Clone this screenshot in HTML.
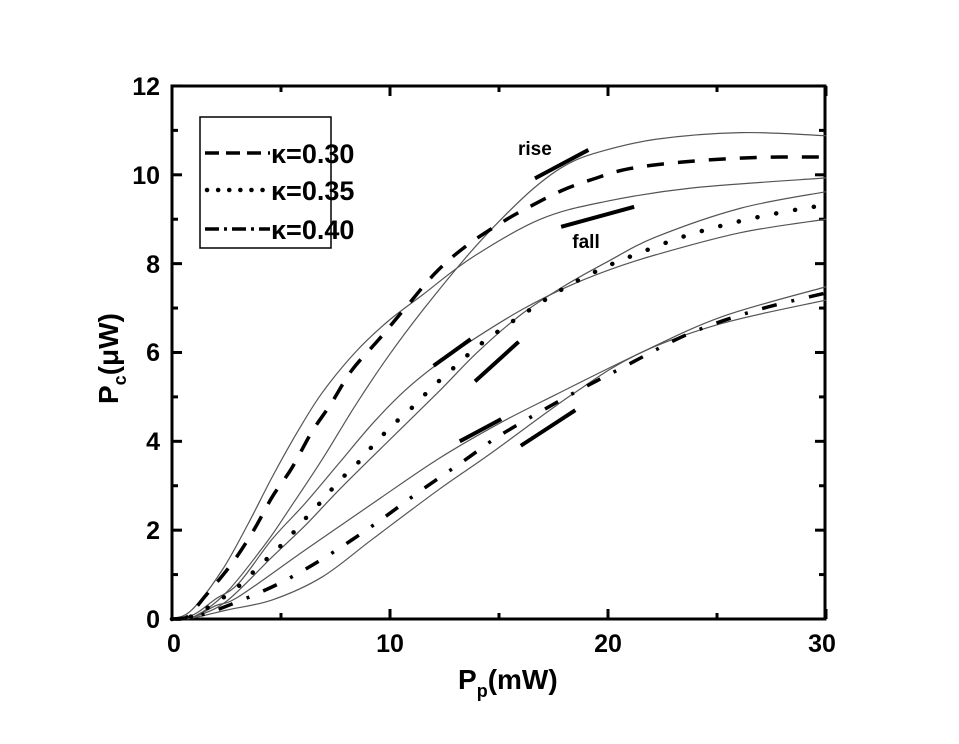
<!DOCTYPE html>
<html><head><meta charset="utf-8"><style>
html,body{margin:0;padding:0;background:#fff;}
svg{display:block;font-family:"Liberation Sans",Arial,sans-serif;font-weight:bold;}
</style></head><body>
<svg id="s" width="959" height="744" viewBox="0 0 959 744" xmlns="http://www.w3.org/2000/svg">
<rect x="172" y="86" width="653" height="533" fill="none" stroke="#000" stroke-width="3"/>
<g id="ticks" stroke="#000" stroke-width="3"></g>
<g font-size="25" text-anchor="middle" fill="#000">
<text x="174" y="652">0</text><text x="390" y="652">10</text><text x="608" y="652">20</text><text x="822" y="652">30</text>
</g>
<g font-size="25" text-anchor="end" fill="#000">
<text x="160" y="628">0</text><text x="160" y="539">2</text><text x="160" y="450">4</text><text x="160" y="361">6</text><text x="160" y="273">8</text><text x="160" y="184">10</text><text x="160" y="95">12</text>
</g>
<text x="458" y="689" font-size="28" fill="#000">P<tspan font-size="18" dy="8">p</tspan><tspan dy="-8">(mW)</tspan></text>
<text transform="translate(118,404) rotate(-90)" font-size="28" fill="#000">P<tspan font-size="18" dy="8">c</tspan><tspan dy="-8">(μW)</tspan></text>
<g id="curves" fill="none"></g>
<rect x="200" y="117" width="131" height="131" fill="#fff" stroke="#000" stroke-width="1.5"/>
<line x1="205" y1="153" x2="270" y2="153" stroke="#000" stroke-width="3.5" stroke-dasharray="14,7"/>
<line x1="207" y1="190" x2="270" y2="190" stroke="#000" stroke-width="4.5" stroke-linecap="round" stroke-dasharray="0.1,11"/>
<line x1="205" y1="229" x2="270" y2="229" stroke="#000" stroke-width="3.5" stroke-dasharray="14,5,3,5"/>
<g font-size="27" fill="#000"><text x="271" y="163">κ=0.30</text><text x="271" y="200">κ=0.35</text><text x="271" y="239">κ=0.40</text></g>
<g font-size="19" fill="#000"><text x="518" y="155">rise</text><text x="586" y="248" text-anchor="middle">fall</text></g>
</svg>
<script>
var X=x=>172+21.8*x, Y=y=>619-44.42*y, NS="http://www.w3.org/2000/svg";
function path(pts){var p=pts.map(a=>[X(a[0]),Y(a[1])]);var d="M"+p[0][0]+","+p[0][1];
for(var i=0;i<p.length-1;i++){var p0=p[i-1]||p[i],p1=p[i],p2=p[i+1],p3=p[i+2]||p2;
d+=" C"+(p1[0]+(p2[0]-p0[0])/6)+","+(p1[1]+(p2[1]-p0[1])/6)+" "+(p2[0]-(p3[0]-p1[0])/6)+","+(p2[1]-(p3[1]-p1[1])/6)+" "+p2[0]+","+p2[1];}return d;}
function add(g,pts,w,c,da,cap){var e=document.createElementNS(NS,"path");e.setAttribute("d",path(pts));e.setAttribute("stroke",c);e.setAttribute("stroke-width",w);if(da)e.setAttribute("stroke-dasharray",da);if(cap)e.setAttribute("stroke-linecap",cap);document.getElementById(g).appendChild(e);}
var thin=[
[[0,0],[0.9,0.2],[2.3,1.1],[3.5,2.15],[4.6,3.2],[5.8,4.25],[6.9,5.1],[8.4,6.0],[9.9,6.7],[11.5,7.3],[13.8,8.15],[16.9,9.0],[19.9,9.4],[23.8,9.7],[30,9.93]],
[[0,0],[1,0.05],[2.5,0.6],[4.3,1.7],[5.35,2.45],[6.9,3.6],[8.4,4.8],[9.9,5.9],[11.5,6.95],[13.5,8.15],[15,8.95],[16.6,9.7],[18,10.2],[19.5,10.5],[22.2,10.8],[26.1,10.95],[30,10.88]],
[[0,0],[1,0.1],[2,0.45],[3.05,0.8],[4.6,1.8],[6.1,2.6],[7.65,3.5],[9.2,4.4],[10.7,5.15],[12.2,5.75],[14,6.35],[16,6.95],[18,7.45],[20,7.85],[22.2,8.2],[26.1,8.7],[30,9.0]],
[[0,0],[1,0.05],[2.5,0.4],[4.6,1.4],[6.1,2.1],[7.65,2.9],[9.5,3.8],[12.2,5.1],[14,6.0],[16,6.85],[18,7.5],[20,8.05],[22.2,8.6],[26.1,9.25],[30,9.62]],
[[0,0],[1,0.05],[2,0.3],[3.05,0.5],[6.1,1.55],[9.2,2.6],[12.2,3.6],[15,4.4],[17.6,5.05],[21.4,5.97],[25.2,6.8],[30,7.48]],
[[0,0],[1,0.03],[2.5,0.2],[4.6,0.43],[6.9,0.95],[9.2,1.8],[12.2,2.9],[14.6,3.72],[18.4,5.07],[21.4,5.97],[25.2,6.65],[30,7.18]]];
thin.forEach(t=>add("curves",t,1.2,"#555"));
add("curves",[[0,0],[0.7,0.05],[1.5,0.5],[2.75,1.25],[3.75,2.0],[4.6,2.75],[5.5,3.4],[6.4,4.2],[7.3,4.85],[8.25,5.6],[9.5,6.3],[10.7,7.0],[12.1,7.8],[13.5,8.4],[15.2,8.95],[16.4,9.28],[17.9,9.65],[19.3,9.9],[21,10.14],[23.7,10.3],[26.8,10.39],[30,10.4]],3.5,"#000","17,14");
add("curves",[[0,0],[1,0.08],[2.7,0.6],[3.5,0.95],[4.45,1.4],[5.3,1.8],[6.1,2.25],[6.95,2.7],[7.65,3.1],[8.5,3.5],[9.3,3.95],[10.2,4.4],[11.1,4.8],[11.9,5.2],[12.8,5.6],[13.7,6.0],[14.6,6.35],[16.35,6.94],[18.1,7.48],[19.9,7.93],[21.6,8.27],[23.4,8.6],[25.1,8.84],[26.9,9.05],[28.7,9.22],[30,9.32]],4.5,"#000","0.1,19","round");
add("curves",[[0,0],[1,0.05],[2.3,0.25],[4.75,0.76],[6.9,1.35],[9.2,2.1],[11.3,2.85],[13.5,3.6],[15.1,4.15],[18.1,5.0],[20.7,5.67],[23.7,6.42],[26.8,6.95],[30,7.34]],3.5,"#000","15,15,3,15");
[[[16.65,9.92],[19.1,10.56]],[[17.85,8.83],[21.2,9.28]],[[12.0,5.7],[13.7,6.3]],[[13.9,5.35],[15.9,6.24]],[[13.2,4.0],[15.1,4.5]],[[16.0,3.9],[18.5,4.7]]].forEach(s=>add("curves",s,4,"#000"));
var t=document.getElementById("ticks"),h="";
for(var x=0;x<=30;x+=5){var L=x%10?6:10;h+=`<line x1="${X(x)}" y1="619" x2="${X(x)}" y2="${619-L}"/><line x1="${X(x)}" y1="86" x2="${X(x)}" y2="${86+L}"/>`;}
for(var y=0;y<=12;y++){var L=y%2?6:10;h+=`<line x1="172" y1="${Y(y)}" x2="${172+L}" y2="${Y(y)}"/><line x1="825" y1="${Y(y)}" x2="${825-L}" y2="${Y(y)}"/>`;}
t.innerHTML=h;
</script>
</body></html>
